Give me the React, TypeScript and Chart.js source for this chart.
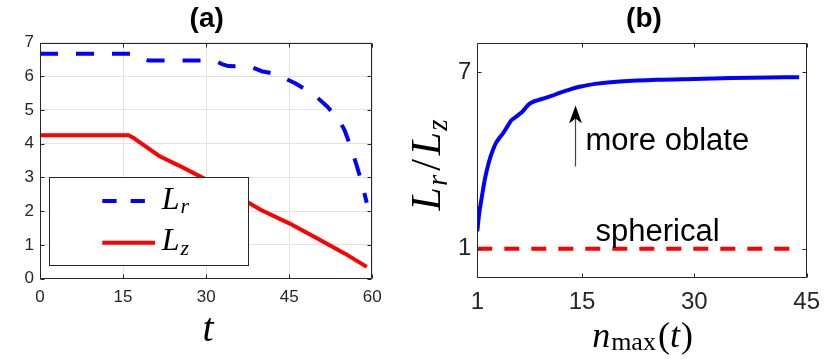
import React, { useEffect, useRef } from "react";
import { Chart, registerables } from "chart.js";

Chart.register(...registerables);

// ---------- data ----------
// panel (a)
const tTicks = [0, 15, 30, 45, 60];
const aYTicks = [0, 1, 2, 3, 4, 5, 6, 7];
const lrT = [0, 16.5, 17.5, 18.5, 19.5, 31, 32, 33, 34, 38, 39, 40, 41, 42, 44, 46, 48, 50, 52, 54, 55, 56, 57, 58, 59];
const lrV = [6.67, 6.67, 6.62, 6.52, 6.47, 6.47, 6.43, 6.35, 6.3, 6.28, 6.22, 6.15, 6.12, 6.08, 5.95, 5.8, 5.6, 5.38, 5.08, 4.7, 4.4, 3.95, 3.45, 2.9, 2.25];
const lzT = [0, 16, 17, 21.7, 25, 29.5, 35, 40, 45, 50, 55, 59];
const lzV = [4.25, 4.25, 4.16, 3.62, 3.36, 2.98, 2.5, 2.03, 1.64, 1.2, 0.75, 0.35];

// panel (b)
const nTicks = [1, 15, 30, 45];
const ratioTicks = [1, 7];
const nMax = [1, 1.25, 1.5, 2, 2.5, 3, 3.5, 4, 4.5, 5, 5.5, 6, 6.5, 7, 7.5, 8, 8.5, 9, 10, 11, 12, 13, 14, 15, 17, 20, 25, 30, 35, 40, 44];
const ratio = [1.6, 2.2, 2.6, 3.35, 3.9, 4.3, 4.6, 4.78, 4.95, 5.15, 5.35, 5.45, 5.55, 5.65, 5.8, 5.93, 6.0, 6.04, 6.12, 6.2, 6.3, 6.38, 6.46, 6.52, 6.61, 6.68, 6.74, 6.77, 6.8, 6.82, 6.83];
const sphN = [1, 44];
const sphV = [1, 1];

// ---------- styling ----------
const SANS = '"Liberation Sans", Arial, Helvetica, sans-serif';
const SERIF = '"Liberation Serif", "Times New Roman", serif';
const AX = "#262626";
const BLUE = "#0000ff";
const RED = "#ff0000";
const OFF_B = 395; // page x of right canvas

type Seg = { s: string; f: string; dy?: number; dx?: number };
function drawSegs(ctx: CanvasRenderingContext2D, segs: Seg[], x: number, y: number, align: "left" | "center") {
  ctx.textBaseline = "alphabetic";
  ctx.textAlign = "left";
  let w = 0;
  for (const g of segs) {
    ctx.font = g.f;
    w += (g.dx || 0) + ctx.measureText(g.s).width;
  }
  let cx = align === "center" ? x - w / 2 : x;
  for (const g of segs) {
    ctx.font = g.f;
    cx += g.dx || 0;
    ctx.fillText(g.s, cx, y + (g.dy || 0));
    cx += ctx.measureText(g.s).width;
  }
}

function drawFrame(chart: any, len: number) {
  const { ctx, chartArea: a, scales } = chart;
  const L = Math.round(a.left) + 0.5;
  const R = Math.round(a.right) - 0.5;
  const T = Math.round(a.top) + 0.5;
  const B = Math.round(a.bottom) - 0.5;
  ctx.save();
  ctx.strokeStyle = AX;
  ctx.lineWidth = 1;
  ctx.setLineDash([]);
  ctx.beginPath();
  ctx.rect(L, T, R - L, B - T);
  for (const t of scales.x.ticks) {
    const px = Math.round(scales.x.getPixelForValue(t.value)) + 0.5;
    ctx.moveTo(px, B);
    ctx.lineTo(px, B - len);
    ctx.moveTo(px, T);
    ctx.lineTo(px, T + len);
  }
  for (const t of scales.y.ticks) {
    const py = Math.round(scales.y.getPixelForValue(t.value)) + 0.5;
    ctx.moveTo(L, py);
    ctx.lineTo(L + len, py);
    ctx.moveTo(R, py);
    ctx.lineTo(R - len, py);
  }
  ctx.stroke();
  ctx.restore();
}

const pts = (xs: number[], ys: number[]) => xs.map((x, i) => ({ x, y: ys[i] }));

const panelAPlugin = {
  id: "panelA",
  afterDatasetsDraw(chart: any) {
    const ctx: CanvasRenderingContext2D = chart.ctx;
    drawFrame(chart, 4);
    ctx.save();
    // legend
    ctx.fillStyle = "#ffffff";
    ctx.fillRect(49.5, 177.5, 199, 88);
    ctx.strokeStyle = AX;
    ctx.lineWidth = 1;
    ctx.strokeRect(49.5, 177.5, 199, 88);
    ctx.lineWidth = 4;
    ctx.lineCap = "butt";
    ctx.strokeStyle = BLUE;
    ctx.setLineDash([14.3, 14]);
    ctx.beginPath();
    ctx.moveTo(102.3, 201);
    ctx.lineTo(145, 201);
    ctx.stroke();
    ctx.setLineDash([]);
    ctx.strokeStyle = RED;
    ctx.beginPath();
    ctx.moveTo(102.3, 242.7);
    ctx.lineTo(155, 242.7);
    ctx.stroke();
    ctx.fillStyle = "#000";
    drawSegs(ctx, [{ s: "L", f: `italic 32px ${SERIF}` }, { s: "r", f: `italic 22px ${SERIF}`, dy: 4, dx: 1 }], 161.7, 209.3, "left");
    drawSegs(ctx, [{ s: "L", f: `italic 32px ${SERIF}` }, { s: "z", f: `italic 22px ${SERIF}`, dy: 5, dx: 1 }], 161.7, 250, "left");
    // title
    ctx.font = `bold 28px ${SANS}`;
    ctx.textAlign = "center";
    ctx.textBaseline = "alphabetic";
    ctx.fillText("(a)", 206.7, 27);
    // x title
    drawSegs(ctx, [{ s: "t", f: `italic 40px ${SERIF}` }], 208, 341, "center");
    ctx.restore();
  },
};

const panelBPlugin = {
  id: "panelB",
  afterDatasetsDraw(chart: any) {
    const ctx: CanvasRenderingContext2D = chart.ctx;
    const { x, y } = chart.scales;
    drawFrame(chart, 4);
    ctx.save();
    ctx.fillStyle = "#000";
    // arrow
    const ax = Math.round(x.getPixelForValue(14.1)) + 0.5;
    const tip = y.getPixelForValue(5.87);
    const bot = y.getPixelForValue(3.8);
    ctx.strokeStyle = "#444";
    ctx.lineWidth = 1.2;
    ctx.beginPath();
    ctx.moveTo(ax, bot);
    ctx.lineTo(ax, tip + 12);
    ctx.stroke();
    ctx.beginPath();
    ctx.moveTo(ax, tip);
    ctx.lineTo(ax - 6.5, tip + 18);
    ctx.lineTo(ax, tip + 13);
    ctx.lineTo(ax + 6.5, tip + 18);
    ctx.closePath();
    ctx.fill();
    // annotations
    ctx.font = `31px ${SANS}`;
    ctx.textAlign = "left";
    ctx.textBaseline = "alphabetic";
    ctx.fillText("more oblate", x.getPixelForValue(15.45), y.getPixelForValue(4.36));
    ctx.fillText("spherical", x.getPixelForValue(16.8), y.getPixelForValue(1.26));
    // title
    ctx.font = `bold 28px ${SANS}`;
    ctx.textAlign = "center";
    ctx.fillText("(b)", 644 - OFF_B, 27);
    // x title
    drawSegs(
      ctx,
      [
        { s: "n", f: `italic 36px ${SERIF}` },
        { s: "max", f: `26px ${SERIF}`, dy: 3.5, dx: 1 },
        { s: "(", f: `36px ${SERIF}`, dx: 2 },
        { s: "t", f: `italic 36px ${SERIF}` },
        { s: ")", f: `36px ${SERIF}`, dx: 1 },
      ],
      642.5 - OFF_B,
      346.7,
      "center"
    );
    // y title (rotated)
    ctx.translate(440 - OFF_B, 165);
    ctx.rotate(-Math.PI / 2);
    drawSegs(
      ctx,
      [
        { s: "L", f: `italic 42px ${SERIF}` },
        { s: "r", f: `italic 29px ${SERIF}`, dy: 7, dx: 1 },
        { s: "/", f: `42px ${SERIF}`, dx: 4 },
        { s: "L", f: `italic 42px ${SERIF}`, dx: 4 },
        { s: "z", f: `italic 29px ${SERIF}`, dy: 7, dx: 1 },
      ],
      0,
      0,
      "center"
    );
    ctx.restore();
  },
};

function PanelA() {
  const ref = useRef<HTMLCanvasElement>(null);
  useEffect(() => {
    const chart = new Chart(ref.current!, {
      type: "line",
      data: {
        datasets: [
          {
            data: pts(lrT, lrV),
            borderColor: BLUE,
            borderWidth: 4,
            borderDash: [18, 18],
            pointRadius: 0,
            tension: 0,
            borderJoinStyle: "round",
          },
          {
            data: pts(lzT, lzV),
            borderColor: RED,
            borderWidth: 4,
            pointRadius: 0,
            tension: 0,
            borderJoinStyle: "round",
          },
        ],
      },
      options: {
        animation: false,
        responsive: false,
        maintainAspectRatio: false,
        events: [],
        layout: { padding: { left: 0, top: 42.5, right: 395 - 372.3, bottom: 0 } },
        plugins: { legend: { display: false }, tooltip: { enabled: false }, title: { display: false } },
        scales: {
          x: {
            type: "linear",
            min: 0,
            max: 60,
            afterBuildTicks: (s: any) => {
              s.ticks = tTicks.map((v) => ({ value: v }));
            },
            afterFit: (s: any) => {
              s.height = 359 - 278.7;
            },
            ticks: { color: AX, font: { family: SANS, size: 17 }, padding: 8, maxRotation: 0 },
            grid: { color: "#e3e3e3", drawTicks: false, lineWidth: 1 },
            border: { display: false },
          },
          y: {
            type: "linear",
            min: 0,
            max: 7,
            afterBuildTicks: (s: any) => {
              s.ticks = aYTicks.map((v) => ({ value: v }));
            },
            afterFit: (s: any) => {
              s.width = 40;
            },
            ticks: { color: AX, font: { family: SANS, size: 17 }, padding: 6 },
            grid: { color: "#e3e3e3", drawTicks: false, lineWidth: 1 },
            border: { display: false },
          },
        },
      } as any,
      plugins: [panelAPlugin],
    });
    return () => chart.destroy();
  }, []);
  return (
    <canvas
      ref={ref}
      width={395}
      height={359}
      style={{ position: "absolute", left: 0, top: 0, width: 395, height: 359 }}
    />
  );
}

function PanelB() {
  const ref = useRef<HTMLCanvasElement>(null);
  useEffect(() => {
    const chart = new Chart(ref.current!, {
      type: "line",
      data: {
        datasets: [
          {
            data: pts(nMax, ratio),
            borderColor: BLUE,
            borderWidth: 4,
            pointRadius: 0,
            tension: 0.3,
            borderJoinStyle: "round",
          },
          {
            data: pts(sphN, sphV),
            borderColor: RED,
            borderWidth: 4,
            borderDash: [15, 12],
            pointRadius: 0,
            tension: 0,
          },
        ],
      },
      options: {
        animation: false,
        responsive: false,
        maintainAspectRatio: false,
        events: [],
        layout: { padding: { left: 0, top: 42.7, right: 830 - 810.7, bottom: 0 } },
        plugins: { legend: { display: false }, tooltip: { enabled: false }, title: { display: false } },
        scales: {
          x: {
            type: "linear",
            min: 1,
            max: 45,
            afterBuildTicks: (s: any) => {
              s.ticks = nTicks.map((v) => ({ value: v }));
            },
            afterFit: (s: any) => {
              s.height = 359 - 278.3;
            },
            ticks: { color: AX, font: { family: SANS, size: 24 }, padding: 10, maxRotation: 0 },
            grid: { display: false, drawTicks: false },
            border: { display: false },
          },
          y: {
            type: "linear",
            min: 0,
            max: 8,
            afterBuildTicks: (s: any) => {
              s.ticks = ratioTicks.map((v) => ({ value: v }));
            },
            afterFit: (s: any) => {
              s.width = 477.3 - OFF_B;
            },
            ticks: { color: AX, font: { family: SANS, size: 24 }, padding: 6 },
            grid: { display: false, drawTicks: false },
            border: { display: false },
          },
        },
      } as any,
      plugins: [panelBPlugin],
    });
    return () => chart.destroy();
  }, []);
  return (
    <canvas
      ref={ref}
      width={830 - OFF_B}
      height={359}
      style={{ position: "absolute", left: OFF_B, top: 0, width: 830 - OFF_B, height: 359 }}
    />
  );
}

export default function App() {
  return (
    <div style={{ position: "absolute", left: 0, top: 0, width: 830, height: 359, background: "#ffffff" }}>
      <PanelA />
      <PanelB />
    </div>
  );
}
